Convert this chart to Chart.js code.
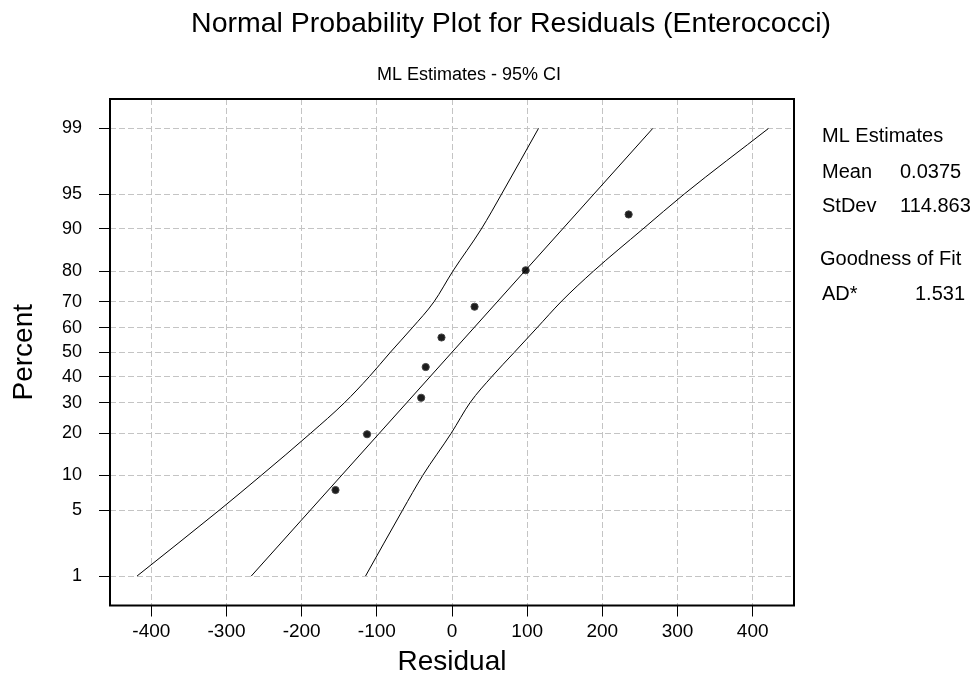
<!DOCTYPE html>
<html>
<head>
<meta charset="utf-8">
<script src="https://cdn.jsdelivr.net/npm/chart.js@4"></script>
<style>
  html, body { margin: 0; padding: 0; background: #fff; }
  #wrap { width: 973px; height: 681px; }
</style>
</head>
<body>
<div id="wrap"><canvas id="probPlot" width="973" height="681"></canvas></div>
<script>
// Dados
const residuals = [-155, -113, -41, -35, -14, 30, 98, 235];
const percents = [7.6, 19.7, 31.8, 43.9, 56.1, 68.2, 80.3, 92.4];

const fitPercent = [1, 99];
const fitResidual = [-267, 267];

const ciPercent = [1, 5, 10, 20, 30, 40, 50, 60, 70, 80, 90, 95, 99];
const ciLow = [-419, -310, -254, -188, -143, -110, -82, -53, -24, 1, 39, 66, 115];
const ciHigh = [-115, -66, -39, -1, 24, 53, 83, 113, 145, 188, 254, 309, 421];

const yTickPercent = [1, 5, 10, 20, 30, 40, 50, 60, 70, 80, 90, 95, 99];
const xTicks = [-400, -300, -200, -100, 0, 100, 200, 300, 400];

const statLabels = ['Mean', 'StDev'];
const statValues = ['0.0375', '114.863'];
const adValue = '1.531';

const FONT = '"Liberation Sans", Arial, Helvetica, sans-serif';

// Inversa da normal padrão (Acklam) - escala de probabilidade
function probit(p) {
    const a = [-3.969683028665376e+01, 2.209460984245205e+02, -2.759285104469687e+02, 1.383577518672690e+02, -3.066479806614716e+01, 2.506628277459239e+00];
    const b = [-5.447609879822406e+01, 1.615858368580409e+02, -1.556989798598866e+02, 6.680131188771972e+01, -1.328068155288572e+01];
    const c = [-7.784894002430293e-03, -3.223964580411365e-01, -2.400758277161838e+00, -2.549732539343734e+00, 4.374664141464968e+00, 2.938163982698783e+00];
    const d = [7.784695709041462e-03, 3.224671290700398e-01, 2.445134137142996e+00, 3.754408661907416e+00];
    const pl = 0.02425;
    let q, r;
    if (p < pl) {
        q = Math.sqrt(-2 * Math.log(p));
        return (((((c[0]*q+c[1])*q+c[2])*q+c[3])*q+c[4])*q+c[5]) / ((((d[0]*q+d[1])*q+d[2])*q+d[3])*q+1);
    }
    if (p > 1 - pl) {
        q = Math.sqrt(-2 * Math.log(1 - p));
        return -(((((c[0]*q+c[1])*q+c[2])*q+c[3])*q+c[4])*q+c[5]) / ((((d[0]*q+d[1])*q+d[2])*q+d[3])*q+1);
    }
    q = p - 0.5;
    r = q * q;
    return (((((a[0]*r+a[1])*r+a[2])*r+a[3])*r+a[4])*r+a[5])*q / (((((b[0]*r+b[1])*r+b[2])*r+b[3])*r+b[4])*r+1);
}

const toPoints = (xs, ps) => xs.map((x, i) => ({ x: x, y: probit(ps[i] / 100) }));

// Textos e moldura
const decorPlugin = {
    id: 'decor',
    afterDraw(chart) {
        const ctx = chart.ctx;
        const area = chart.chartArea;
        ctx.save();
        ctx.strokeStyle = '#000';
        ctx.lineWidth = 2;
        ctx.strokeRect(area.left, area.top, area.right - area.left, area.bottom - area.top);

        ctx.fillStyle = '#000';
        ctx.textBaseline = 'alphabetic';
        ctx.textAlign = 'center';
        ctx.font = '28.5px ' + FONT;
        ctx.fillText('Normal Probability Plot for Residuals (Enterococci)', 511, 32);
        ctx.font = '18px ' + FONT;
        ctx.fillText('ML Estimates - 95% CI', 469, 80);
        ctx.font = '28px ' + FONT;
        ctx.fillText('Residual', (area.left + area.right) / 2, 670);

        ctx.save();
        ctx.translate(32, (area.top + area.bottom) / 2);
        ctx.rotate(-Math.PI / 2);
        ctx.fillText('Percent', 0, 0);
        ctx.restore();

        ctx.textAlign = 'left';
        ctx.font = '20px ' + FONT;
        ctx.fillText('ML Estimates', 822, 142);
        statLabels.forEach((lab, i) => {
            ctx.fillText(lab, 822, 178 + i * 34);
            ctx.fillText(statValues[i], 900, 178 + i * 34);
        });
        ctx.fillText('Goodness of Fit', 820, 265);
        ctx.fillText('AD*', 822, 300);
        ctx.textAlign = 'right';
        ctx.fillText(adValue, 965, 300);
        ctx.restore();
    }
};

const lineStyle = {
    borderColor: '#000',
    borderWidth: 1,
    pointRadius: 0,
    showLine: true,
    fill: false
};

const gridOpts = {
    color: '#c4c4c4',
    tickColor: '#000',
    tickBorderDash: [],
    tickLength: 11,
    lineWidth: 1
};

function initProbPlot() {
    const ctx = document.getElementById('probPlot');
    new Chart(ctx.getContext('2d'), {
        type: 'scatter',
        data: {
            datasets: [
                Object.assign({ label: 'Lower CI', data: toPoints(ciLow, ciPercent), cubicInterpolationMode: 'monotone' }, lineStyle),
                Object.assign({ label: 'Upper CI', data: toPoints(ciHigh, ciPercent), cubicInterpolationMode: 'monotone' }, lineStyle),
                Object.assign({ label: 'Fit', data: toPoints(fitResidual, fitPercent) }, lineStyle),
                {
                    label: 'Residuals',
                    data: toPoints(residuals, percents),
                    pointRadius: 3.6,
                    pointBackgroundColor: '#1c1c1c',
                    pointBorderColor: '#444',
                    pointBorderWidth: 1,
                    showLine: false
                }
            ]
        },
        plugins: [decorPlugin],
        options: {
            responsive: false,
            animation: false,
            layout: { padding: { left: 0, right: 179, top: 99, bottom: 0 } },
            plugins: {
                legend: { display: false },
                tooltip: { enabled: false }
            },
            scales: {
                x: {
                    type: 'linear',
                    min: -455,
                    max: 455,
                    afterBuildTicks: s => { s.ticks = xTicks.map(v => ({ value: v })); },
                    afterFit: s => { s.height = 75.5; },
                    border: { display: false, dash: [6, 3] },
                    grid: gridOpts,
                    ticks: {
                        color: '#000',
                        padding: 4,
                        maxRotation: 0,
                        font: { family: FONT, size: 19 }
                    }
                },
                y: {
                    type: 'linear',
                    min: -2.633,
                    max: 2.633,
                    afterBuildTicks: s => { s.ticks = yTickPercent.map(p => ({ value: probit(p / 100) })); },
                    afterFit: s => { s.width = 110; },
                    border: { display: false, dash: [6, 3] },
                    grid: gridOpts,
                    ticks: {
                        color: '#000',
                        padding: 17,
                        font: { family: FONT, size: 18 },
                        callback: (v, i) => String(yTickPercent[i])
                    }
                }
            }
        }
    });
}

document.addEventListener('DOMContentLoaded', initProbPlot);
</script>
</body>
</html>
